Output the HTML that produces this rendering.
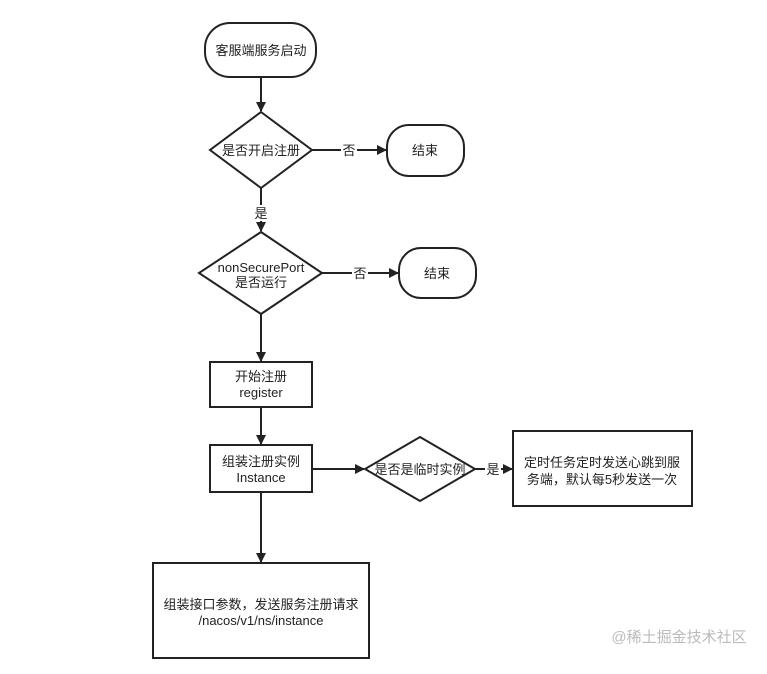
<!DOCTYPE html>
<html><head><meta charset="utf-8"><style>
body{margin:0;background:#fff;}
svg text{font-family:"Liberation Sans","Noto Sans CJK SC",sans-serif;font-size:13px;fill:#222;}
</style></head><body>
<svg width="767" height="669" viewBox="0 0 767 669" xmlns="http://www.w3.org/2000/svg">
<defs><marker id="a" markerWidth="10" markerHeight="10" refX="9" refY="5" orient="auto" markerUnits="userSpaceOnUse"><path d="M0,0 L10,5 L0,10 Z" fill="#222"/></marker></defs>
<g stroke="#222" stroke-width="2" fill="#fff">
<rect x="205" y="23" width="111" height="54" rx="25"/>
<polygon points="261,112 312,150 261,188 210,150"/>
<rect x="387" y="125" width="77" height="51" rx="22"/>
<polygon points="261,232 322,273 261,314 199,273"/>
<rect x="399" y="248" width="77" height="50" rx="22"/>
<rect x="210" y="362" width="102" height="45"/>
<rect x="210" y="445" width="102" height="47"/>
<polygon points="420,437 475,469 420,501 365,469"/>
<rect x="513" y="431" width="179" height="75"/>
<rect x="153" y="563" width="216" height="95"/>
</g>
<g stroke="#222" stroke-width="2" fill="none">
<line x1="261" y1="77" x2="261" y2="111" marker-end="url(#a)"/>
<line x1="312" y1="150" x2="386" y2="150" marker-end="url(#a)"/>
<line x1="261" y1="188" x2="261" y2="231" marker-end="url(#a)"/>
<line x1="322" y1="273" x2="398" y2="273" marker-end="url(#a)"/>
<line x1="261" y1="314" x2="261" y2="361" marker-end="url(#a)"/>
<line x1="261" y1="407" x2="261" y2="444" marker-end="url(#a)"/>
<line x1="312" y1="469" x2="364" y2="469" marker-end="url(#a)"/>
<line x1="475" y1="469" x2="512" y2="469" marker-end="url(#a)"/>
<line x1="261" y1="492" x2="261" y2="562" marker-end="url(#a)"/>
</g>
<rect x="341" y="142" width="16" height="16" fill="#fff"/>
<rect x="253" y="205" width="16" height="16" fill="#fff"/>
<rect x="352" y="265" width="16" height="16" fill="#fff"/>
<rect x="485" y="461" width="16" height="16" fill="#fff"/>
<g text-anchor="middle">
<text x="261" y="55">客服端服务启动</text>
<text x="261" y="155">是否开启注册</text>
<text x="349" y="155">否</text>
<text x="425" y="155">结束</text>
<text x="261" y="218">是</text>
<text x="261" y="272">nonSecurePort</text>
<text x="261" y="287">是否运行</text>
<text x="360" y="278">否</text>
<text x="437" y="278">结束</text>
<text x="261" y="381">开始注册</text>
<text x="261" y="397">register</text>
<text x="261" y="466">组装注册实例</text>
<text x="261" y="482">Instance</text>
<text x="420" y="474">是否是临时实例</text>
<text x="493" y="474">是</text>
<text x="602" y="467">定时任务定时发送心跳到服</text>
<text x="602" y="484">务端，默认每5秒发送一次</text>
<text x="261" y="609">组装接口参数，发送服务注册请求</text>
<text x="261" y="625">/nacos/v1/ns/instance</text>
<text x="679" y="642" style="fill:#bbb;font-size:15px">@稀土掘金技术社区</text>
</g>
</svg>
</body></html>
